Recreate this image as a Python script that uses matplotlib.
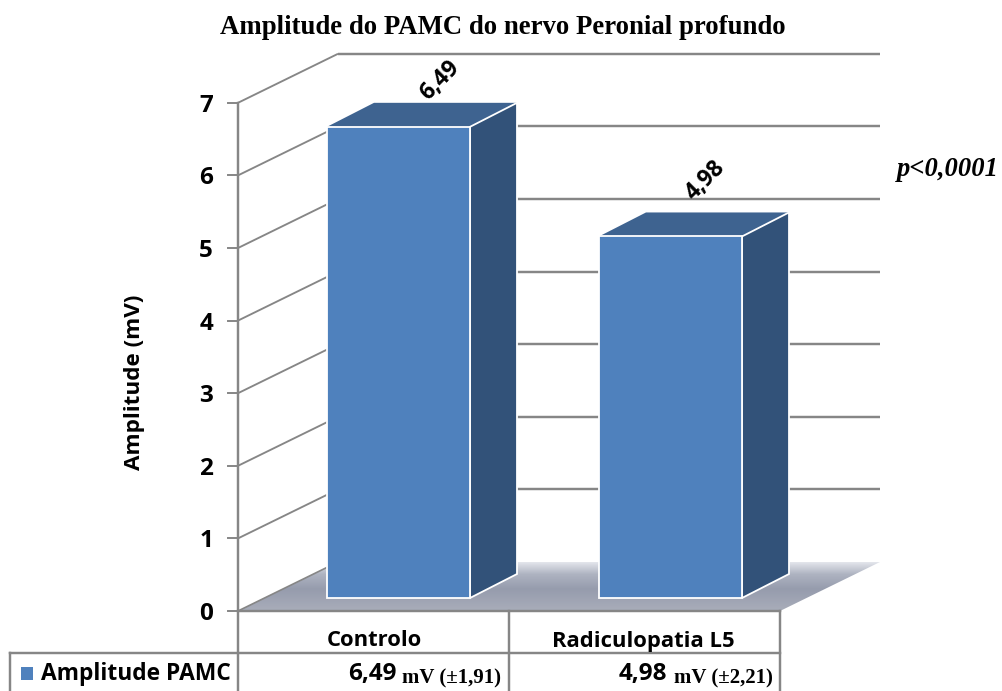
import numpy as np
import matplotlib
matplotlib.use("Agg")
import matplotlib.pyplot as plt
from matplotlib.patches import Polygon
from matplotlib.colors import LinearSegmentedColormap

categories = ["Controlo", "Radiculopatia L5"]
values = [6.49, 4.98]
sds = [1.91, 2.21]
value_labels = ["6,49", "4,98"]
sd_labels = ["1,91", "2,21"]
y_ticks = [0, 1, 2, 3, 4, 5, 6, 7]
series_name = "Amplitude PAMC"
title = "Amplitude do PAMC do nervo Peronial profundo"
y_label = "Amplitude (mV)"
p_text = "p<0,0001"

W, H = 1002, 691
PX = 72.6            # pixels per unit of value
Y0 = 611             # pixel row of value 0 on the front plane
def v(px_row):       # pixel row -> value
    return (Y0 - px_row) / PX

fig = plt.figure(figsize=(W / 100, H / 100), dpi=100)
ax = fig.add_axes([0, 0, 1, 1])
ax.set_xlim(0, W)
ax.set_ylim(v(H), v(0))
ax.axis("off")

GREY = "#868686"
LW = 1.75
SANS = "Open Sans"
SERIF = "Liberation Serif"

x_l, x_r = 238, 780
dx_wall, dy_wall = 100, 49 / PX
dy_base = 13 / PX
bar_w, dx_bar, dy_bar = 143, 47, 24 / PX
bar_left = [327, 599]
FRONT, TOP, SIDE = "#4f81bd", "#3e6390", "#325279"

# floor with gradient
floor = Polygon([(x_l, 0), (x_r, 0), (x_r + dx_wall, dy_wall), (x_l + dx_wall, dy_wall)],
                closed=True, fc="none", ec="none", transform=ax.transData)
ax.add_patch(floor)
cmap = LinearSegmentedColormap.from_list(
    "fl", [(0, "#a9adba"), (0.45, "#969cad"), (0.75, "#aeb3c1"), (1, "#e4e6ec")])
im = ax.imshow(np.linspace(0, 1, 256)[::-1, None], cmap=cmap, aspect="auto",
               extent=[x_l, x_r + dx_wall, 0, dy_wall], zorder=1)
im.set_clip_path(floor)
ax.set_xlim(0, W)
ax.set_ylim(v(H), v(0))

# walls and ticks
for t in y_ticks:
    ax.plot([x_l, x_l + dx_wall], [t, t + dy_wall], color=GREY, lw=1.35 if t else 1.2, zorder=2,
            solid_capstyle="butt")
    if t:
        ax.plot([x_l + dx_wall, x_l + dx_wall + x_r - x_l], [t + dy_wall] * 2, color=GREY, lw=LW,
                zorder=2, solid_capstyle="butt")
    ax.plot([x_l - 10, x_l], [t, t], color=GREY, lw=1.4, zorder=2)
    ax.text(213, t - 3 / PX, str(t), ha="right", va="center", family=SANS, weight="bold",
            fontsize=17.5, color="black")

# table and axis lines
ax.plot([x_l, x_l], [7, v(H)], color=GREY, lw=LW, zorder=3)
ax.plot([x_l, x_r], [0, 0], color=GREY, lw=LW, zorder=3)
row_y = v(653)
ax.plot([10, x_r], [row_y, row_y], color=GREY, lw=LW, zorder=3)
for xx, top in [(10, row_y), (509, 0), (x_r, 0)]:
    ax.plot([xx, xx], [top, v(H)], color=GREY, lw=LW, zorder=3)

# bars
for left, val, cat, sd_l, lab, off in zip(bar_left, values, categories, sd_labels, value_labels,
                                         [(42, 46), (35, 56)]):
    b = dy_base
    ax.add_patch(Polygon([(left, val + b), (left + bar_w, val + b),
                          (left + bar_w + dx_bar, val + b + dy_bar), (left + dx_bar, val + b + dy_bar)],
                         fc=TOP, ec="none", zorder=4))
    ax.add_patch(Polygon([(left + bar_w, b), (left + bar_w + dx_bar, b + dy_bar),
                          (left + bar_w + dx_bar, val + b + dy_bar), (left + bar_w, val + b)],
                         fc=SIDE, ec="white", lw=1.3, zorder=4))
    ax.add_patch(Polygon([(left, b), (left + bar_w, b), (left + bar_w, val + b), (left, val + b)],
                         fc=FRONT, ec="white", lw=1.3, zorder=5))
    cx = left + bar_w / 2
    ax.text(cx + off[0], val + b + off[1] / PX, lab, rotation=45, ha="center", va="center",
            family=SANS, weight="bold", fontsize=16.5, color="black", zorder=6, rotation_mode="anchor")

# category labels and table values
for xc, cat in zip([374, 643], categories):
    ax.text(xc, v(641), cat, ha="center", va="center", family=SANS, weight="bold",
            fontsize=15.8, color="black", zorder=6)
for x_val, x_end, lab, sd_l in zip([397, 667], [501, 773], value_labels, sd_labels):
    ax.text(x_val, v(674), lab, ha="right", va="center", family=SANS, weight="bold",
            fontsize=17.5, color="black", zorder=6)
    ax.text(x_end, v(678), "mV (\u00b1" + sd_l + ")", ha="right", va="center", family=SERIF,
            weight="bold", fontsize=15, color="black", zorder=6)

# legend key
ax.add_patch(Polygon([(21, v(667)), (33, v(667)), (33, v(680)), (21, v(680))], fc=FRONT, ec="none", zorder=6))
ax.text(41, v(674), series_name, ha="left", va="center", family=SANS, weight="bold",
        fontsize=16.4, color="black", zorder=6)

# titles
ax.text(503, v(28), title, ha="center", va="center", family=SERIF, weight="bold",
        fontsize=19.3, color="black")
ax.text(135, v(382), y_label, rotation=90, ha="center", va="center", family=SANS, weight="bold",
        fontsize=16.2, color="black")
ax.text(948, v(170), p_text, ha="center", va="center", family=SERIF, weight="bold", style="italic",
        fontsize=19.2, color="black")

fig.savefig("out.png", dpi=100)
